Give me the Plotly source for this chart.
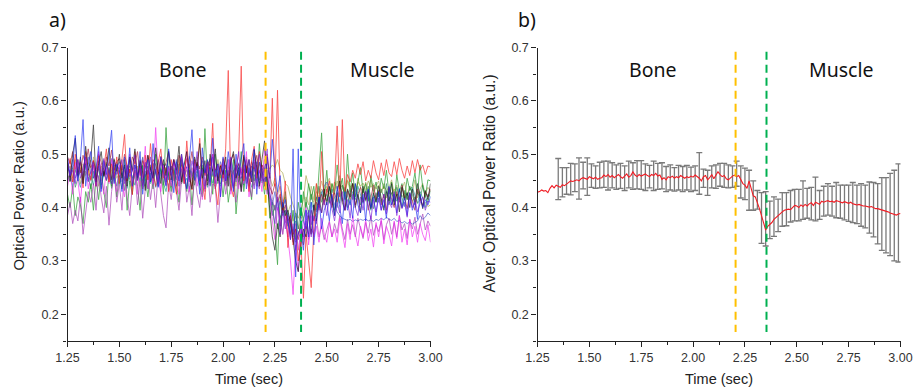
import plotly.graph_objects as go

W, H = 914, 390
PANEL_A_PX = (67.5, 430.5)
PANEL_B_PX = (537.5, 900.5)
PANEL_Y_PX = (47.5, 341.0)

# ---- panel a: time grid (sec) ----
TIME = [1.25 + 0.0125 * i for i in range(141)]

# ---- panel a: traces, optical power ratio x 1000 ----
RED = [
470,492,448,500,462,486,437,505,470,452,488,440,497,460,475,510,448,482,455,495,
445,487,537,450,472,424,505,460,478,435,498,452,520,465,440,485,510,455,475,430,
490,462,425,478,500,445,525,460,433,490,470,530,450,415,485,472,558,440,405,480,
455,510,657,440,420,475,500,665,450,478,430,490,515,455,505,470,440,500,455,605,
440,620,430,395,450,325,385,330,360,300,340,230,350,300,250,360,445,395,505,410,
430,450,405,440,553,420,565,430,462,448,470,455,482,462,486,450,470,455,488,465,
452,484,460,490,465,458,486,462,492,470,455,478,460,488,465,490,470,480,462,478,476]
BLUE = [
495,460,478,535,450,490,565,440,480,505,455,472,515,430,488,462,500,545,445,482,
470,430,495,455,512,440,480,460,505,425,472,490,448,520,465,438,495,470,440,510,
465,428,486,450,500,470,435,490,546,452,478,425,512,465,490,440,530,458,482,420,
495,450,505,470,430,500,460,490,520,435,475,455,510,425,485,470,440,495,455,528,
470,430,460,400,415,375,340,510,270,510,360,320,395,345,410,330,385,420,360,395,
410,375,425,385,440,400,370,430,395,415,380,445,405,390,425,375,435,400,420,385,
430,395,415,380,440,405,425,390,435,400,418,385,428,395,410,378,425,400,415,405,420]
BLACK = [
485,450,500,530,460,495,445,515,470,490,555,448,482,505,460,478,512,452,490,468,
500,455,480,440,495,470,510,452,488,465,432,498,473,455,512,468,445,490,460,505,
452,490,470,515,448,482,505,460,435,495,475,520,455,488,442,500,468,510,450,478,
462,495,440,485,505,455,475,430,498,465,490,448,508,470,440,490,525,450,400,345,
320,370,345,410,385,395,370,340,300,280,330,360,345,385,350,405,375,420,390,435,
405,440,415,385,430,450,410,395,435,420,445,400,425,390,440,415,432,398,428,410,
440,418,395,430,412,445,405,425,392,438,415,428,400,435,410,445,420,398,432,415,445]
GREEN = [
425,400,440,385,420,405,370,430,410,445,395,455,415,465,430,400,470,440,480,420,
460,435,490,395,450,425,470,440,395,480,455,420,465,435,500,445,475,425,550,460,
430,475,445,410,490,455,430,470,405,460,485,440,420,548,450,475,425,500,445,465,
420,470,410,445,490,388,455,505,430,475,450,415,485,440,520,460,425,470,380,410,
360,293,420,390,430,375,350,395,340,410,380,430,400,445,415,440,395,470,540,420,
470,410,445,425,480,435,455,415,500,430,465,420,450,475,428,445,412,460,430,448,
420,455,435,470,425,448,410,462,430,445,418,455,432,440,465,425,480,438,420,452,450]
MAGENTA = [
440,470,425,485,450,410,470,495,435,460,480,440,505,455,425,475,445,490,460,430,
480,450,420,465,500,440,475,425,490,455,515,435,470,445,550,460,430,480,450,475,
440,490,460,425,475,445,505,430,465,485,440,470,415,460,480,445,500,435,465,420,
470,440,490,425,460,480,435,475,445,505,420,465,490,440,470,430,510,470,420,375,
340,400,375,350,385,340,300,237,330,280,365,340,400,330,385,345,365,335,380,350,
335,372,345,360,335,380,348,325,370,340,385,350,328,365,345,378,338,360,326,372,
345,380,332,365,350,328,375,342,385,335,360,330,378,345,365,335,370,350,338,368,335]
PURPLE = [
385,410,370,395,375,420,350,395,430,410,445,395,460,420,390,440,367,430,465,410,
445,395,470,420,385,440,465,405,450,380,435,470,415,455,400,465,430,385,362,445,
415,460,430,395,450,475,410,440,385,465,425,400,455,430,475,410,445,440,372,430,
470,425,455,485,440,410,470,430,460,490,445,420,475,450,435,480,455,425,465,415,
395,430,365,400,375,345,390,335,370,320,355,345,375,340,360,350,380,345,365,340,
358,375,345,370,352,385,360,340,378,350,368,345,380,358,342,372,352,385,348,368,
355,375,340,368,380,350,372,345,385,358,370,342,378,360,382,350,372,388,358,375,365]
OLIVE = [
455,462,448,470,458,475,452,468,460,478,455,465,472,450,468,460,475,455,465,470,
458,472,452,465,478,455,470,460,475,450,468,462,480,455,470,458,465,475,452,468,
460,472,455,468,480,458,470,452,475,462,468,478,455,470,460,475,458,468,472,455,
468,475,458,470,462,478,455,472,465,480,460,470,475,462,482,470,478,485,472,480,
475,490,470,465,445,440,420,405,390,380,395,415,460,440,425,410,430,420,435,425,
440,425,445,430,450,435,442,428,452,438,445,430,448,440,446,432,450,438,445,435,
442,428,440,432,438,425,435,422,432,420,428,415,425,412,420,408,415,405,410,402,405]
NAVY = [
478,465,490,455,472,484,460,476,495,462,480,450,488,470,458,482,466,492,454,474,
486,462,476,450,490,468,480,456,472,494,460,478,448,484,466,490,458,474,482,452,
478,462,490,468,452,484,474,496,458,470,482,450,488,464,476,492,460,472,454,486,
466,480,456,492,470,448,484,462,474,490,458,478,468,486,452,474,464,440,420,405,
430,395,412,385,395,370,352,360,335,350,362,345,375,390,368,405,392,415,425,440,
448,435,420,405,392,385,380,378,376,378,374,377,375,378,376,379,375,377,374,378,
376,380,377,382,378,376,380,374,376,371,374,370,373,369,372,375,385,378,382,390,385]
TEAL = [
450,462,440,472,455,438,465,480,448,460,442,470,455,435,468,452,475,445,460,440,
470,448,458,436,472,455,442,465,450,478,440,460,445,468,438,455,472,446,430,462,
448,466,440,458,472,445,455,435,468,450,462,442,474,452,438,464,446,470,455,440,
460,445,470,452,436,465,448,458,442,472,455,438,462,450,468,446,455,440,425,410,
395,415,380,400,372,390,365,355,375,350,368,380,395,385,410,395,420,405,430,412,
425,408,435,418,400,428,412,438,420,405,430,415,440,422,408,432,418,395,425,410,
428,414,400,432,418,405,425,412,436,420,402,428,415,438,422,408,430,418,400,425,420]
MAROON = [
495,482,505,472,490,465,498,480,510,475,488,468,500,485,460,495,478,508,470,486,
492,470,500,478,465,495,482,505,460,488,475,498,468,490,480,462,496,472,484,505,
470,490,462,498,480,468,492,475,505,465,485,472,495,460,488,478,500,470,482,465,
492,475,460,488,500,470,482,465,495,476,458,486,472,498,465,480,470,455,440,425,
445,410,425,390,405,375,385,350,360,340,375,330,365,350,395,375,410,400,425,405,
435,415,400,428,410,442,420,395,432,415,445,405,425,438,410,430,395,420,442,415,
432,405,425,395,438,415,400,430,410,442,420,398,428,412,395,435,418,402,430,420,435]
VIOLET = [
480,460,470,445,490,455,475,495,450,468,485,440,478,460,492,452,470,444,486,462,
472,490,445,480,458,468,498,450,475,440,485,462,495,455,472,448,488,465,442,478,
460,485,470,440,495,458,476,448,488,465,505,452,472,435,482,460,495,445,478,462,
485,450,472,495,440,468,505,455,480,445,490,462,435,478,500,450,470,510,430,395,
370,420,350,395,360,385,340,370,320,355,340,375,360,395,345,385,370,405,390,415,
385,420,400,375,410,390,430,395,415,380,425,400,385,420,395,430,405,378,415,392,
418,395,425,388,412,400,430,385,420,398,410,382,425,400,415,392,408,420,395,412,410]
SEA = [
462,448,475,438,455,470,445,482,458,435,468,452,478,442,465,450,472,436,460,480,
445,465,432,478,452,440,470,456,485,442,462,435,475,450,468,440,458,482,448,466,
438,470,452,482,445,460,436,475,458,442,468,450,480,440,462,448,472,435,458,444,
470,442,458,432,465,480,448,438,472,455,440,468,450,480,445,462,475,445,415,385,
405,360,385,350,395,365,378,345,390,360,400,375,410,390,425,400,415,440,410,430,
412,438,420,395,428,408,442,418,400,432,415,445,425,405,435,412,440,420,398,428,
410,435,418,445,405,428,412,438,420,400,432,415,440,425,405,430,415,442,420,410,432]
TAN = [
468,478,455,490,465,445,482,460,472,450,495,462,440,478,458,485,448,470,492,455,
465,480,450,472,488,445,462,478,440,495,458,470,448,482,465,452,490,442,475,460,
478,450,468,490,445,472,458,482,440,465,495,448,475,460,485,442,470,455,490,462,
448,475,490,458,470,440,482,465,450,495,462,478,442,470,485,455,490,475,460,440,
455,425,440,410,420,390,405,375,385,360,375,395,420,405,440,415,445,425,450,430,
445,455,428,448,435,460,438,425,450,432,445,422,455,438,428,448,430,452,425,440,
450,428,445,418,438,452,425,442,415,435,448,422,440,428,452,418,435,445,425,438,430]

TRACES_A = [
    (TAN, "#a8a050"), (OLIVE, "#a0a040"), (TEAL, "#109090"), (SEA, "#208050"),
    (GREEN, "#10901a"), (PURPLE, "#a030b0"), (NAVY, "#4050c8"), (MAROON, "#a01030"),
    (MAGENTA, "#f020f0"), (RED, "#f81818"), (BLACK, "#101010"), (BLUE, "#1020f0"),
    (VIOLET, "#7010d8"),
]

# ---- panel b: mean curve, x 1000, one value each 0.01 s ----
TIME_MEAN = [1.25 + 0.01 * i for i in range(176)]
MEAN = [
429,430,433,431,432,428,436,441,437,442,440,438,443,441,444,447,450,449,451,452,450,454,456,455,453,
458,456,454,457,453,455,456,461,458,462,457,460,456,459,462,458,455,459,463,457,460,467,461,458,462,
459,461,463,460,458,462,460,464,459,461,453,456,452,458,456,459,455,458,456,460,457,455,458,456,459,
457,461,458,455,450,458,460,452,456,462,454,460,467,462,458,460,454,452,456,459,461,458,460,452,445,
442,436,450,435,422,420,410,398,385,372,358,365,368,372,378,382,385,388,392,395,396,397,396,401,404,
403,400,405,402,406,403,407,409,404,410,408,406,412,410,412,413,411,412,410,413,412,410,409,411,409,
408,410,407,406,405,406,404,403,403,402,401,402,400,398,398,397,396,395,393,392,390,389,387,386,388,389]

# ---- panel b: error bars, x 1000, one each 0.02 s from 1.35 s ----
ERR_INDEX = [10 + 2 * i for i in range(83)]
ERR_UP = [
492,475,475,483,482,493,485,493,482,478,485,487,487,484,480,483,478,487,484,488,
488,482,479,487,483,484,477,480,475,479,477,479,476,
478,503,472,470,478,480,483,483,480,478,
487,478,474,470,450,432,428,430,412,420,416,428,428,432,434,
434,450,436,438,457,432,440,445,440,447,442,442,442,447,442,445,442,448,447,445,456,456,464,470,482]
ERR_LOW = [
415,420,425,424,430,416,435,423,438,436,437,438,433,437,434,436,432,437,434,435,
434,432,437,432,434,435,430,433,431,433,430,433,430,
432,425,438,423,437,436,440,438,437,438,
440,418,415,395,395,397,333,328,342,346,355,365,366,373,375,
375,378,380,377,375,378,384,386,384,381,380,377,374,372,370,365,362,352,345,332,320,315,310,300,298]

# ---- reference lines and labels ----
TITLE_Y_A = "Optical Power Ratio (a.u.)"
TITLE_Y_B = "Aver. Optical Power Ratio (a.u.)"
TITLE_X = "Time (sec)"
BOUNDS_Y = [0.692, 0.167]
BONE_END_A, MUSCLE_START_A = 2.205, 2.376
BONE_END_B, MUSCLE_START_B = 2.205, 2.354
TICK_X = [1.25, 1.50, 1.75, 2.00, 2.25, 2.50, 2.75, 3.00]
TICK_Y = [0.2, 0.3, 0.4, 0.5, 0.6, 0.7]

fig = go.Figure()
for values, colour in TRACES_A:
    fig.add_trace(go.Scatter(
        x=TIME[:len(values)], y=[v / 1000 for v in values], mode="lines",
        line=dict(color=colour, width=0.85), opacity=0.75,
        xaxis="x", yaxis="y", showlegend=False, hoverinfo="skip"))

err_x = [TIME_MEAN[i] for i in ERR_INDEX]
err_y = [MEAN[i] / 1000 for i in ERR_INDEX]
fig.add_trace(go.Scatter(
    x=err_x, y=err_y, mode="markers", marker=dict(size=1, opacity=0),
    error_y=dict(type="data", symmetric=False,
                 array=[u / 1000 - m for u, m in zip(ERR_UP, err_y)],
                 arrayminus=[m - l / 1000 for l, m in zip(ERR_LOW, err_y)],
                 color="#7a7a7a", thickness=1.3, width=3),
    xaxis="x2", yaxis="y2", showlegend=False, hoverinfo="skip"))
fig.add_trace(go.Scatter(
    x=TIME_MEAN, y=[v / 1000 for v in MEAN], mode="lines",
    line=dict(color="#f01c24", width=1.1),
    xaxis="x2", yaxis="y2", showlegend=False, hoverinfo="skip"))

for xa, ya, pos, colour in [
    ("x", "y", BONE_END_A, "#ffc000"), ("x", "y", MUSCLE_START_A, "#00b050"),
    ("x2", "y2", BONE_END_B, "#ffc000"), ("x2", "y2", MUSCLE_START_B, "#00b050"),
]:
    fig.add_trace(go.Scatter(
        x=[pos, pos], y=BOUNDS_Y, mode="lines",
        line=dict(color=colour, width=2, dash="8px,5px"),
        xaxis=xa, yaxis=ya, showlegend=False, hoverinfo="skip"))

axis_common = dict(
    automargin=False,
    showgrid=False, zeroline=False, showline=True, linecolor="#222", linewidth=1.4,
    ticks="outside", ticklen=5, tickwidth=1.2, tickcolor="#222",
    tickfont=dict(family="Liberation Sans", size=12.5, color="#333"),
    title_font=dict(family="Liberation Sans", size=14.5, color="#222"),
)
xminor = dict(dtick=0.125, ticklen=3, tickwidth=1, tickcolor="#222", ticks="outside", showgrid=False)
yminor = dict(dtick=0.05, ticklen=3, tickwidth=1, tickcolor="#222", ticks="outside", showgrid=False)
y_dom = [1 - PANEL_Y_PX[1] / H, 1 - PANEL_Y_PX[0] / H]

def xaxis(px, anchor):
    return dict(axis_common, domain=[px[0] / W, px[1] / W], range=[1.25, 3.0], anchor=anchor,
                tickvals=TICK_X, ticktext=[f"{t:.2f}" for t in TICK_X], minor=xminor,
                title=dict(text=TITLE_X, standoff=9))

def yaxis(anchor):
    return dict(axis_common, domain=y_dom, range=[0.15, 0.7], anchor=anchor,
                tickvals=TICK_Y, ticktext=[f"{t:.1f}" for t in TICK_Y], minor=yminor)

def label(text, x, y, xref="paper", yref="paper", size=19.5, angle=0, family="Noto Sans", colour="#111"):
    return dict(text=text, xref=xref, yref=yref, x=x, y=y, showarrow=False, textangle=angle,
                xanchor="center", yanchor="middle",
                font=dict(family=family, size=size, color=colour))

fig.update_layout(
    template="none",
    width=W, height=H, autosize=False, margin=dict(l=0, r=0, t=0, b=0, autoexpand=False),
    paper_bgcolor="white", plot_bgcolor="white",
    xaxis=xaxis(PANEL_A_PX, "y"), yaxis=yaxis("x"),
    xaxis2=xaxis(PANEL_B_PX, "y2"), yaxis2=yaxis("x2"),
    annotations=[
        label("Bone", 1.807, 0.658, "x", "y"),
        label("Muscle", 2.766, 0.658, "x", "y"),
        label("Bone", 1.807, 0.658, "x2", "y2"),
        label("Muscle", 2.713, 0.658, "x2", "y2"),
        label("a)", 57 / W, 1 - 19 / H),
        label("b)", 527 / W, 1 - 19 / H),
        label(TITLE_Y_A, 18 / W, 1 - 186.5 / H, size=14.8, angle=-90, family="Liberation Sans", colour="#222"),
        label(TITLE_Y_B, 489 / W, 1 - 183.5 / H, size=15.6, angle=-90, family="Liberation Sans", colour="#222"),
    ],
)
fig.write_html("out.html", config=dict(displayModeBar=False),
               post_script="document.body.style.margin='0';document.body.style.overflow='hidden';")
